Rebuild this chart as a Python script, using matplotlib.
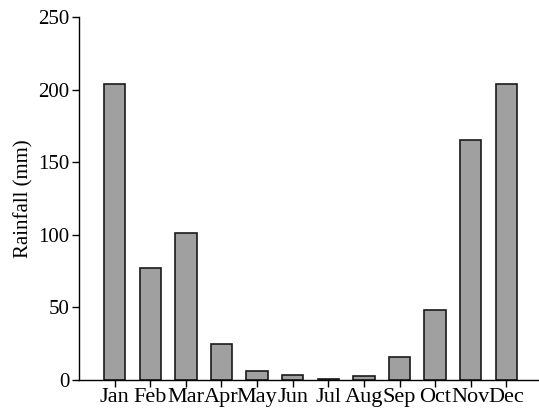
import numpy as np
import matplotlib.pyplot as plt

months = ["Jan", "Feb", "Mar", "Apr", "May", "Jun",
          "Jul", "Aug", "Sep", "Oct", "Nov", "Dec"]
rainfall = [204, 77, 101, 25, 6, 3.5, 0.7, 2.8, 16, 48, 165, 204]
yticks = [0, 50, 100, 150, 200, 250]

plt.rcParams['font.family'] = ['Liberation Serif', 'DejaVu Serif']

fig = plt.figure(figsize=(5.39, 4.08), dpi=100)
ax = fig.add_axes([79 / 539, 28 / 408, 463 / 539, 363 / 408])

x = np.arange(len(months))
ax.bar(x, rainfall, width=0.6, color='#a0a0a0', edgecolor='#1a1a1a', linewidth=1.2)

ax.set_xlim(-1, 12)
ax.set_ylim(0, 250)
ax.set_xticks(x)
ax.set_xticklabels(months)
ax.set_yticks(yticks)
ax.tick_params(labelsize=15, direction='out', length=5, width=1, pad=2)
ax.tick_params(axis='x', labelsize=16, pad=1)
ax.set_ylabel("Rainfall (mm)", fontsize=15, labelpad=3)

ax.spines['top'].set_visible(False)
ax.spines['right'].set_visible(False)
for s in ['left', 'bottom']:
    ax.spines[s].set_linewidth(1)

fig.savefig("out.png", dpi=100)
